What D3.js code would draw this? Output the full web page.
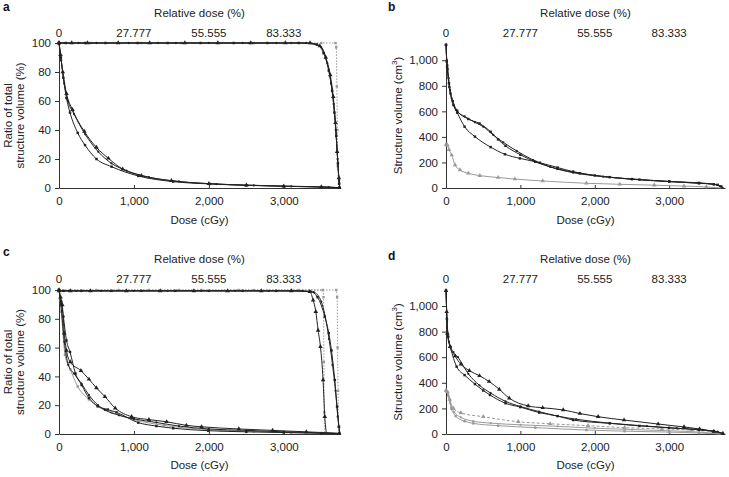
<!DOCTYPE html>
<html>
<head>
<meta charset="utf-8">
<script src="https://cdn.jsdelivr.net/npm/d3@7"></script>
<style>
  body { margin: 0; background: #fff; }
  svg { display: block; font-family: "Liberation Sans", Arial, sans-serif; }
  .axis text { font-size: 11.5px; fill: #222; }
  .axis path, .axis line { stroke: #333; }
</style>
</head>
<body>
<div id="chart"></div>
<script>
// ---- data ----
var doseTicks = [0, 1000, 2000, 3000];
var relTicks = [0, 27.777, 55.555, 83.333];
var relLabels = ["0", "27.777", "55.555", "83.333"];
var ratioTicks = [0, 20, 40, 60, 80, 100];
var volTicks = [0, 200, 400, 600, 800, 1000];

// panel a (ratio %)
var aTopTri = [[0,100],[170,100],[380,100],[790,100],[1210,100],[1680,100],[2120,100],[2560,100],[3020,100],[3350,100],[3480,98],[3560,90],[3620,78],[3660,63],[3690,45],[3712,25],[3735,7],[3747,0]];
var aTopSq = [[0,100],[90,100],[350,100],[620,100],[1050,100],[1450,100],[1890,100],[2330,100],[2780,100],[3200,100],[3440,99],[3530,93],[3600,81],[3645,67],[3675,52],[3700,36],[3722,17],[3740,3],[3748,0]];
var aTopDot = [[0,100],[260,100],[500,100],[930,100],[1320,100],[1560,100],[2000,100],[2450,100],[2900,100],[3300,100],[3500,97],[3580,86],[3630,72],[3665,58],[3693,40],[3718,20],[3738,5],[3748,0]];
var aTopGray = [[0,100],[420,100],[1100,100],[1640,100],[2540,100],[2600,100],[3100,100],[3500,100],[3690,100],[3700,97],[3708,70],[3714,40],[3720,15],[3735,3],[3750,0]];
var aLowTri = [[0,100],[20,92],[50,80],[100,65],[180,54],[338,39],[500,28],[658,20.5],[850,13],[1100,8.5],[1500,5],[2000,3],[2500,2],[3000,1.3],[3500,0.8],[3740,0.3]];
var aLowSq = [[0,100],[25,90],[58,76],[100,62],[147,52],[250,38],[347,29.6],[500,20],[702,14.7],[1058,8.3],[1524,4.4],[2013,2.8],[2500,1.8],[3000,1.2],[3500,0.6],[3740,0.2]];
var aLowDot = [[0,100],[30,88],[70,72],[120,60],[200,51],[350,37],[524,25],[700,17],[900,12],[1200,7.5],[1600,4.5],[2100,2.7],[2600,1.8],[3100,1.1],[3600,0.6],[3745,0.2]];

// panel b (volume cm3)
var bHumpDot = [[0,1120],[10,1000],[18,963],[35,860],[54,767],[76,702],[134,611],[250,560],[389,514],[500,480],[635,415],[769,358],[950,290],[1172,219],[1400,165],[1709,120],[2112,89],[2500,68],[3000,50],[3400,38],[3600,30],[3680,15],[3730,0]];
var bHumpSq = [[0,1120],[15,950],[45,790],[90,680],[150,605],[300,540],[450,505],[600,440],[700,380],[800,330],[1000,260],[1200,205],[1500,150],[1800,115],[2200,85],[2600,66],[3000,50],[3400,37],[3600,28],[3700,12],[3730,0]];
var bLowSq = [[0,1120],[10,990],[20,930],[40,820],[60,740],[100,650],[150,590],[250,480],[389,402],[600,320],[792,264],[993,232],[1262,198],[1500,160],[1709,128],[2000,98],[2500,70],[3000,52],[3400,40],[3650,25],[3730,0]];
var bGray = [[0,340],[20,335],[40,300],[76,258],[121,180],[188,141],[300,115],[456,97],[700,82],[926,70],[1300,55],[1888,37],[2336,29],[2800,22],[3200,15],[3500,8],[3700,0]];

// panel c (ratio %)
var cTopTri = [[0,99.4],[150,99.4],[420,99.4],[900,99.4],[1350,99.4],[1800,99.4],[2250,99.4],[2700,99.4],[3100,99.4],[3347,98.8],[3391,93],[3427,85],[3458,72],[3489,60.6],[3524,37.5],[3547,12],[3569,0]];
var cTopSq = [[0,99.4],[60,99.4],[300,99.4],[700,99.4],[1100,99.4],[1550,99.4],[2000,99.4],[2450,99.4],[2900,99.4],[3350,99],[3450,95],[3547,81.5],[3600,70],[3636,58],[3680,37.5],[3711,19],[3737,5],[3750,0]];
var cTopDot = [[0,99.4],[230,99.4],[560,99.4],[1000,99.4],[1450,99.4],[1900,99.4],[2350,99.4],[2800,99.4],[3250,99.4],[3400,98.5],[3500,92],[3604,66],[3650,48],[3690,30],[3720,12],[3745,0]];
var cTopGray1 = [[0,100],[500,100],[1200,100],[1900,100],[2600,100],[3200,100],[3520,100],[3530,95],[3535,50],[3540,15],[3548,0]];
var cTopGray2 = [[0,100],[800,100],[1600,100],[2400,100],[3100,100],[3700,100],[3712,95],[3718,60],[3724,30],[3730,5],[3735,0]];
var cLowTri = [[0,100],[20,95],[44,89.6],[70,70],[100,58],[150,50],[293,44],[400,38],[500,32],[613,26],[750,18],[969,12],[1200,10],[1436,8.5],[1700,6],[1902,5],[2400,3.5],[2850,2.5],[3300,1.5],[3740,0.5]];
var cLowSq = [[0,100],[30,92],[58,81.5],[100,65],[147,57],[220,42],[302,34],[400,25],[516,19.4],[650,17],[769,15],[1058,7.9],[1300,5.5],[1524,4],[1991,2.3],[2500,1.5],[3000,1],[3500,0.5],[3740,0.2]];
var cLowDot = [[0,100],[25,90],[71,64],[124,48],[200,42],[300,35],[400,27],[520,20],[613,16.7],[800,13],[1000,10.5],[1300,8],[1600,5.5],[2000,3.5],[2500,2.5],[3000,1.5],[3500,0.8],[3740,0.3]];
var cLowGray = [[0,100],[30,85],[80,55],[150,45],[250,33],[400,24],[516,19],[700,15],[1000,10],[1400,6],[2000,3],[2160,2.5],[2600,1.8],[3100,1],[3740,0.3]];

// panel d (volume cm3)
var dHumpTri = [[0,1120],[9,955],[18,786],[54,682],[121,609],[200,545],[313,495],[450,455],[580,410],[716,349],[850,280],[1105,219],[1300,205],[1575,188],[1800,160],[2045,135],[2393,109],[2851,78],[3200,55],[3409,39],[3600,20],[3722,5]];
var dSq = [[0,1120],[12,900],[30,760],[60,680],[143,526],[250,460],[389,390],[500,340],[591,305],[800,240],[1000,210],[1253,167],[1500,140],[1709,109],[2201,83],[2600,63],[3000,48],[3400,33],[3600,20],[3730,0]];
var dDot = [[0,1120],[15,880],[40,720],[100,640],[160,600],[300,470],[450,380],[600,320],[800,255],[1000,215],[1250,175],[1500,140],[1750,115],[2200,85],[2700,62],[3100,45],[3450,32],[3650,18],[3740,0]];
var dGrayDash = [[0,340],[20,330],[50,270],[100,200],[200,165],[501,135],[971,96],[1400,80],[1910,65],[2400,50],[2900,40],[3300,30],[3600,15],[3720,0]];
var dGrayMid = [[0,340],[25,320],[60,240],[110,170],[200,130],[367,100],[600,85],[1000,72],[1500,60],[2000,45],[2500,35],[3000,25],[3400,15],[3700,0]];
var dGrayLow = [[0,335],[30,300],[70,200],[130,140],[250,100],[367,83],[700,65],[1200,50],[1888,31],[2400,22],[3000,15],[3400,8],[3700,0]];

var doseMax = 3750;

var svg = d3.select("#chart").append("svg")
  .attr("width", 729)
  .attr("height", 477);

var black = "#222", gray = "#9a9a9a";

function drawPanel(p) {
  var g = svg.append("g").attr("transform", `translate(${p.left}, ${p.top})`);
  var w = p.width, h = p.height;

  var x = d3.scaleLinear().domain([0, doseMax]).range([0, w]);
  var xRel = d3.scaleLinear().domain([0, doseMax / 36]).range([0, w]);
  var y = d3.scaleLinear().domain(p.yDomain).range([h, 0]);

  // bottom axis, ticks pointing in
  g.append("g").attr("class", "axis")
    .attr("transform", `translate(0, ${h})`)
    .call(d3.axisBottom(x).tickValues(doseTicks).tickFormat(d3.format(","))
      .tickSizeInner(-3).tickSizeOuter(0).tickPadding(9));

  // top relative dose labels (no line, no ticks)
  g.append("g").selectAll("text")
    .data(relTicks)
    .enter()
    .append("text")
    .attr("x", d => xRel(d))
    .attr("y", p.relLabelY)
    .attr("text-anchor", "middle")
    .attr("font-size", "11.5px")
    .attr("fill", "#222")
    .text((d, i) => relLabels[i]);

  g.append("g").attr("class", "axis")
    .call(d3.axisLeft(y).tickValues(p.yTicks).tickFormat(d3.format(","))
      .tickSizeInner(4).tickSizeOuter(0).tickPadding(4));

  var line = d3.line()
    .x(d => x(d[0]))
    .y(d => y(d[1]))
    .curve(d3.curveMonotoneX);

  p.series.forEach(function(s) {
    g.append("path")
      .datum(s.data)
      .attr("fill", "none")
      .attr("stroke", s.color)
      .attr("stroke-width", s.width || 1)
      .attr("stroke-dasharray", s.dash || null)
      .attr("d", line);

    var sym = s.shape === "tri" ? d3.symbolTriangle : s.shape === "sq" ? d3.symbolSquare : d3.symbolCircle;
    var size = s.shape === "tri" ? 9 : s.shape === "sq" ? 6 : 4;
    g.selectAll(null)
      .data(s.data.filter(d => d[1] > 0))
      .enter()
      .append("path")
      .attr("transform", d => `translate(${x(d[0])}, ${y(d[1])})`)
      .attr("d", d3.symbol().type(sym).size(size))
      .attr("fill", s.color);
  });

  // titles
  g.append("text")
    .attr("x", w / 2).attr("y", p.relTitleY)
    .attr("text-anchor", "middle").attr("font-size", "11.5px").attr("fill", "#222")
    .text("Relative dose (%)");
  g.append("text")
    .attr("x", w / 2).attr("y", h + p.doseTitleDy)
    .attr("text-anchor", "middle").attr("font-size", "11.5px").attr("fill", "#222")
    .text("Dose (cGy)");

  var yl = g.append("text")
    .attr("transform", "rotate(-90)")
    .attr("text-anchor", "middle").attr("font-size", "11.5px").attr("fill", "#222");
  if (p.ratio) {
    yl.append("tspan").attr("x", -h / 2).attr("y", 12 - p.left).text("Ratio of total");
    yl.append("tspan").attr("x", -h / 2).attr("y", 24 - p.left).text("structure volume (%)");
  } else {
    yl.attr("x", -h / 2).attr("y", 402 - p.left);
    yl.append("tspan").text("Structure volume (cm");
    yl.append("tspan").attr("dy", -5).attr("font-size", "8px").text("3");
    yl.append("tspan").attr("dy", 5).text(")");
  }

  svg.append("text")
    .attr("x", p.letterX).attr("y", p.letterY)
    .attr("font-size", "12px").attr("font-weight", "bold").attr("fill", "#111")
    .text(p.letter);
}

drawPanel({
  letter: "a", letterX: 3, letterY: 11,
  left: 59, top: 43, width: 281, height: 145,
  yDomain: [0, 100], yTicks: ratioTicks, ratio: true,
  relTitleY: -26, relLabelY: -6, doseTitleDy: 36,
  series: [
    {data: aTopGray, shape: "sq", color: gray, dash: "1.5,1.5"},
    {data: aTopTri, shape: "tri", color: black},
    {data: aTopSq, shape: "sq", color: black},
    {data: aTopDot, shape: "dot", color: black},
    {data: aLowDot, shape: "dot", color: black},
    {data: aLowTri, shape: "tri", color: black},
    {data: aLowSq, shape: "sq", color: black}
  ]
});

drawPanel({
  letter: "b", letterX: 388, letterY: 11,
  left: 446, top: 43, width: 279, height: 145,
  yDomain: [0, 1135], yTicks: volTicks, ratio: false,
  relTitleY: -26, relLabelY: -6, doseTitleDy: 36,
  series: [
    {data: bGray, shape: "tri", color: gray},
    {data: bLowSq, shape: "sq", color: black},
    {data: bHumpSq, shape: "sq", color: black},
    {data: bHumpDot, shape: "dot", color: black}
  ]
});

drawPanel({
  letter: "c", letterX: 3, letterY: 256,
  left: 59, top: 290, width: 281, height: 144,
  yDomain: [0, 100], yTicks: ratioTicks, ratio: true,
  relTitleY: -27, relLabelY: -7, doseTitleDy: 35,
  series: [
    {data: cTopGray1, shape: "sq", color: gray, dash: "1.5,1.5"},
    {data: cTopGray2, shape: "sq", color: gray, dash: "1.5,1.5"},
    {data: cTopTri, shape: "tri", color: black},
    {data: cTopSq, shape: "sq", color: black},
    {data: cTopDot, shape: "dot", color: black},
    {data: cLowGray, shape: "sq", color: gray},
    {data: cLowDot, shape: "dot", color: black},
    {data: cLowSq, shape: "sq", color: black},
    {data: cLowTri, shape: "tri", color: black}
  ]
});

drawPanel({
  letter: "d", letterX: 388, letterY: 260,
  left: 446, top: 290, width: 279, height: 144,
  yDomain: [0, 1125], yTicks: volTicks, ratio: false,
  relTitleY: -27, relLabelY: -7, doseTitleDy: 35,
  series: [
    {data: dGrayLow, shape: "sq", color: gray},
    {data: dGrayMid, shape: "dot", color: gray},
    {data: dGrayDash, shape: "tri", color: gray, dash: "3,2"},
    {data: dDot, shape: "dot", color: black},
    {data: dSq, shape: "sq", color: black},
    {data: dHumpTri, shape: "tri", color: black}
  ]
});
</script>
</body>
</html>
